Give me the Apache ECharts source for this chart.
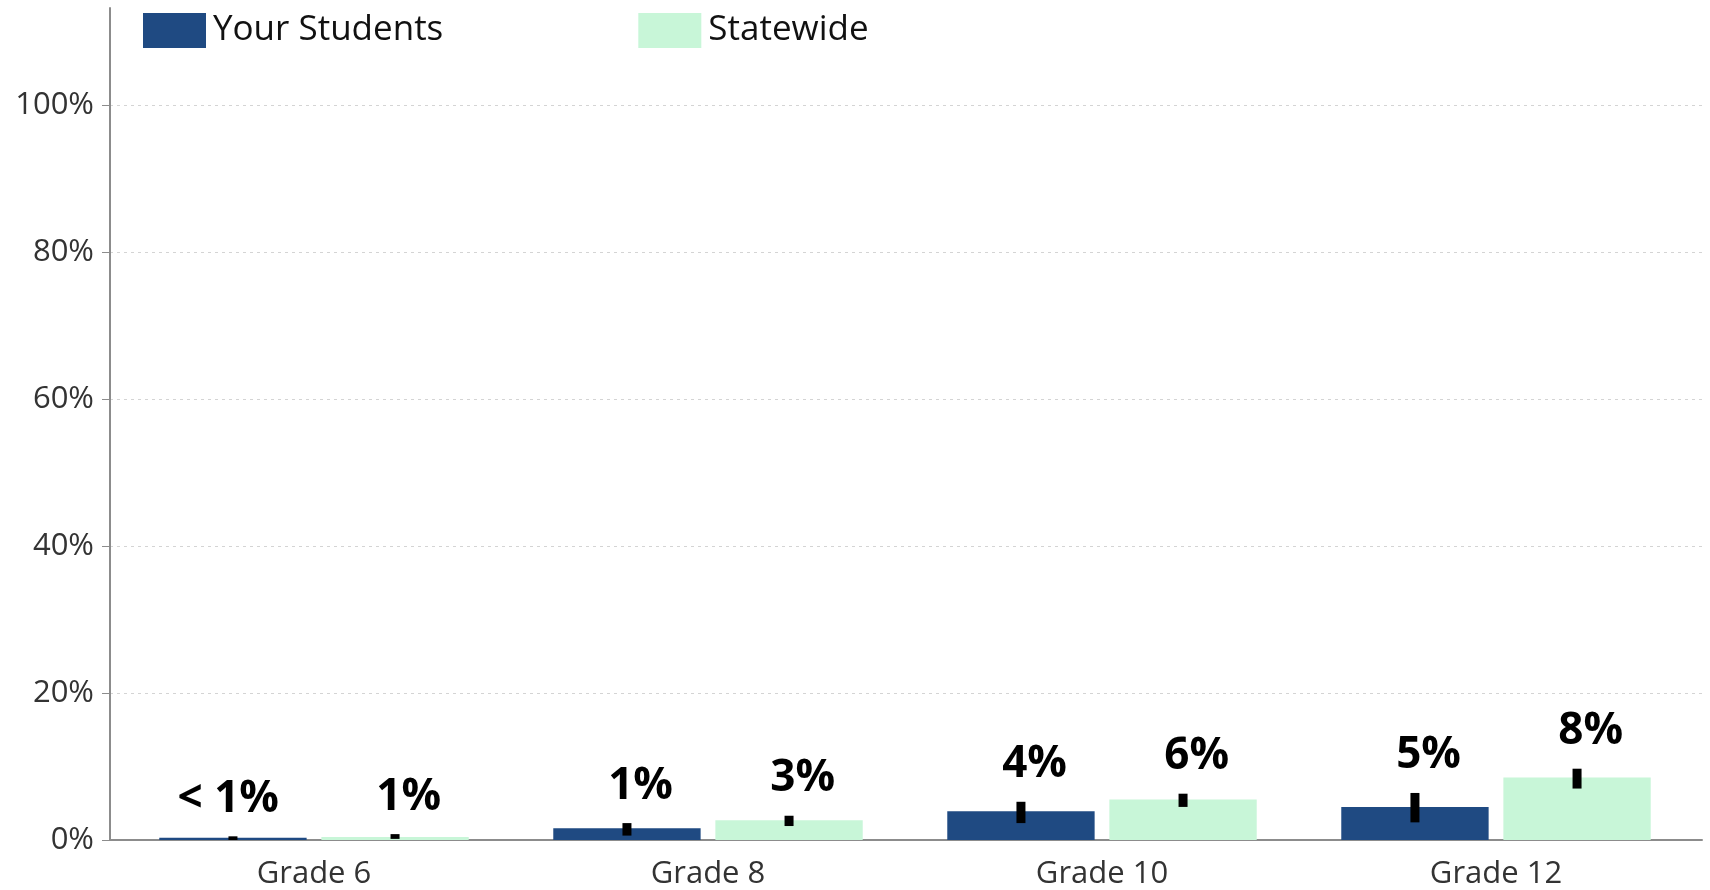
<!DOCTYPE html>
<html>
<head>
<meta charset="utf-8">
<script src="https://cdn.jsdelivr.net/npm/echarts@6/dist/echarts.min.js"></script>
<style>html,body{margin:0;padding:0;background:#fff;}#c{width:1710px;height:890px;}</style>
</head>
<body>
<div id="c"></div>
<script>
const categories = ['Grade 6', 'Grade 8', 'Grade 10', 'Grade 12'];
const yourStudents = [0.3, 1.6, 3.9, 4.5];
const statewide = [0.4, 2.7, 5.5, 8.5];
const yourLow = [0.0, 0.6, 2.3, 2.4];
const yourHigh = [0.5, 2.3, 5.2, 6.4];
const stateLow = [0.15, 1.9, 4.5, 7.0];
const stateHigh = [0.8, 3.3, 6.3, 9.7];
const yourLabels = ['< 1%', '1%', '4%', '5%'];
const stateLabels = ['1%', '3%', '6%', '8%'];
const yTicks = [0, 20, 40, 60, 80, 100];

const BLUE = '#1F4A82';
const GREEN = '#C8F6D8';
const BAR_FRAC = 0.374;
const GAP_FRAC = 0.10;

function errSeries(name, low, high, labels, side) {
  return {
    type: 'custom',
    name: name,
    xAxisIndex: 2, yAxisIndex: 2,
    z: 10,
    data: categories.map((c, i) => [i, low[i], high[i]]),
    renderItem: function (params, api) {
      const i = api.value(0);
      const band = api.size([1, 0])[0];
      const bw = band * BAR_FRAC;
      const off = side * (bw * (1 + GAP_FRAC) / 2);
      const cx = api.coord([i, 0])[0] + off;
      const top = api.coord([i, api.value(2)])[1];
      const bot = api.coord([i, api.value(1)])[1];
      return {
        type: 'group',
        children: [
          { type: 'rect', shape: { x: cx - 4.5, y: top, width: 9, height: Math.max(bot - top, 3) }, style: { fill: '#000' } },
          { type: 'text', x: cx + 46, y: top - 15,
            style: { text: labels[params.dataIndex], textAlign: 'right', textVerticalAlign: 'bottom',
                     font: 'bold 44px "Open Sans"', fill: '#000' } }
        ]
      };
    }
  };
}

const chart = echarts.init(document.getElementById('c'));
chart.setOption({
  animation: false,
  backgroundColor: '#fff',
  legend: {
    left: 138, top: 8,
    itemWidth: 63, itemHeight: 35, itemGap: 195,
    icon: 'rect',
    textStyle: { fontFamily: 'Open Sans', fontSize: 35, color: '#111', padding: [0, 0, 0, 2] },
    data: ['Your Students', 'Statewide']
  },
  grid: [
    { left: 110, right: 8, top: 105, bottom: 50 },
    { left: 110, right: 10, top: 8, bottom: 50 },
    { left: 117, right: 17, top: 105, bottom: 50 }
  ],
  xAxis: [
    { gridIndex: 0, type: 'value', min: 0, max: 1, show: true,
      axisLine: { show: true, lineStyle: { color: '#8c8c8c', width: 2 } },
      axisTick: { show: false }, axisLabel: { show: false }, splitLine: { show: false } },
    { gridIndex: 1, type: 'value', min: 0, max: 1, show: false },
    { gridIndex: 2, type: 'category', data: categories,
      axisLine: { show: false }, axisTick: { show: false },
      axisLabel: { fontFamily: 'Open Sans', fontSize: 31, color: '#333', margin: 19 } }
  ],
  yAxis: [
    { gridIndex: 0, type: 'value', min: 0, max: 100, interval: 20,
      axisLine: { show: false },
      axisTick: { show: true, length: 8, lineStyle: { color: '#8c8c8c' } },
      axisLabel: { fontFamily: 'Open Sans', fontSize: 31, color: '#333', margin: 16,
                   formatter: v => yTicks.indexOf(v) >= 0 ? v + '%' : '' },
      splitLine: { show: true, lineStyle: { color: '#d4d4d4', type: [3, 4], width: 1 } } },
    { gridIndex: 1, type: 'value', min: 0, max: 1,
      axisLine: { show: true, lineStyle: { color: '#8c8c8c', width: 2 } },
      axisTick: { show: false }, axisLabel: { show: false }, splitLine: { show: false } },
    { gridIndex: 2, type: 'value', min: 0, max: 100, show: false }
  ],
  series: [
    { type: 'bar', name: 'Your Students', xAxisIndex: 2, yAxisIndex: 2, data: yourStudents,
      barWidth: (BAR_FRAC * 100) + '%', barGap: (GAP_FRAC * 100) + '%',
      itemStyle: { color: BLUE } },
    { type: 'bar', name: 'Statewide', xAxisIndex: 2, yAxisIndex: 2, data: statewide,
      barWidth: (BAR_FRAC * 100) + '%', barGap: (GAP_FRAC * 100) + '%',
      itemStyle: { color: GREEN } },
    errSeries('errYour', yourLow, yourHigh, yourLabels, -1),
    errSeries('errState', stateLow, stateHigh, stateLabels, 1)
  ]
});
</script>
</body>
</html>
